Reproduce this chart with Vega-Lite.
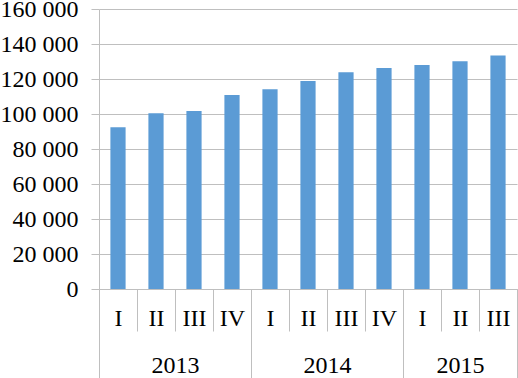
{
  "$schema": "https://vega.github.io/schema/vega-lite/v6.json",
  "autosize": "none",
  "width": 418,
  "height": 280,
  "padding": {"left": 99, "top": 9, "right": 1, "bottom": 89},
  "background": "white",
  "config": {
    "view": {"stroke": null},
    "font": "Liberation Serif",
    "axis": {"labelFont": "Liberation Serif", "labelFontSize": 24, "labelColor": "black"}
  },
  "data": {
    "values": [
      {"q": "2013 I", "value": 92400},
      {"q": "2013 II", "value": 100400},
      {"q": "2013 III", "value": 101700},
      {"q": "2013 IV", "value": 110900},
      {"q": "2014 I", "value": 114100},
      {"q": "2014 II", "value": 118900},
      {"q": "2014 III", "value": 123800},
      {"q": "2014 IV", "value": 126300},
      {"q": "2015 I", "value": 128000},
      {"q": "2015 II", "value": 130100},
      {"q": "2015 III", "value": 133500}
    ]
  },
  "layer": [
    {
      "mark": {"type": "bar", "color": "#5B9BD5", "width": {"band": 0.4}},
      "encoding": {
        "x": {
          "field": "q",
          "type": "ordinal",
          "sort": null,
          "scale": {"paddingInner": 0, "paddingOuter": 0},
          "axis": {
            "orient": "bottom",
            "title": null,
            "tickBand": "extent",
            "tickSize": 42,
            "tickColor": "#bfbfbf",
            "domainColor": "#bfbfbf",
            "grid": false,
            "labelAngle": 0,
            "labelFont": "Liberation Serif",
            "labelFontSize": 24,
            "labelBaseline": "middle",
            "labelPadding": -13,
            "labelOverlap": false,
            "labelExpr": "isValid(datum.value) ? split(datum.value, ' ')[1] : ''"
          }
        },
        "y": {
          "field": "value",
          "type": "quantitative",
          "scale": {"domain": [0, 160000], "nice": false},
          "axis": {
            "title": null,
            "values": [0, 20000, 40000, 60000, 80000, 100000, 120000, 140000, 160000],
            "grid": true,
            "gridColor": "#bfbfbf",
            "domainColor": "#bfbfbf",
            "tickColor": "#bfbfbf",
            "tickSize": 8,
            "labelFont": "Liberation Serif",
            "labelFontSize": 24,
            "labelPadding": 13,
            "labelExpr": "replace(format(datum.value, ','), ',', ' ')"
          }
        }
      }
    },
    {
      "mark": {"type": "bar", "opacity": 0},
      "encoding": {
        "x": {
          "field": "q",
          "type": "ordinal",
          "sort": null,
          "axis": {
            "orient": "bottom",
            "title": null,
            "values": ["2013 I", "2013 IV", "2014 IV", "2015 III"],
            "tickBand": "extent",
            "tickSize": 89,
            "tickColor": "#bfbfbf",
            "tickOpacity": {"condition": {"test": "datum.value == '2013 I'", "value": 0}, "value": 1},
            "domain": false,
            "grid": false,
            "labelAngle": 0,
            "labelFont": "Liberation Serif",
            "labelFontSize": 24,
            "labelBaseline": "middle",
            "labelPadding": -13,
            "labelOverlap": false,
            "labelOffset": {"condition": {"test": "datum.value == '2015 III'", "value": -38}, "value": -57},
            "labelExpr": "isValid(datum.value) && datum.value != '2013 I' ? split(datum.value, ' ')[0] : ''"
          }
        }
      }
    }
  ],
  "resolve": {"axis": {"x": "independent"}}
}
